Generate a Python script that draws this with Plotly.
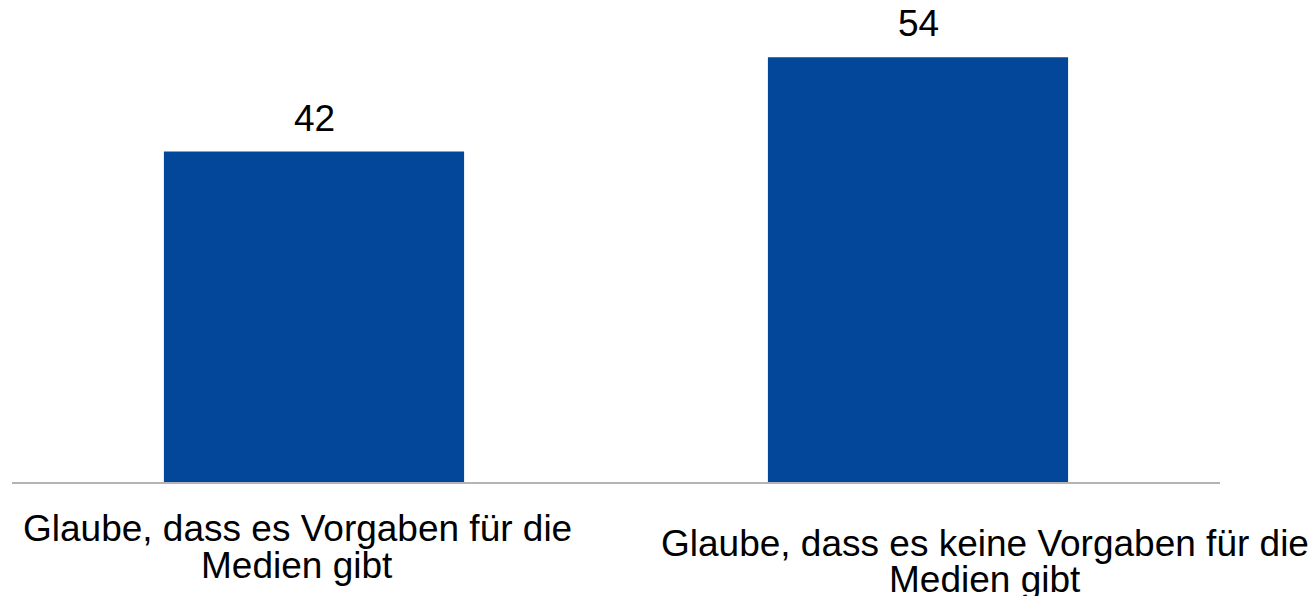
import plotly.graph_objects as go

categories = ["Glaube, dass es Vorgaben für die Medien gibt",
              "Glaube, dass es keine Vorgaben für die Medien gibt"]
label_lines = [["Glaube, dass es Vorgaben für die", "Medien gibt"],
               ["Glaube, dass es keine Vorgaben für die", "Medien gibt"]]
values = [42, 54]

BAR = "#02479A"
FONT = "Liberation Sans, Arial, sans-serif"

fig = go.Figure(go.Bar(x=categories, y=values, marker_color=BAR, marker_line_width=0,
                       width=0.497, hoverinfo="skip"))

annotations = []
for c, v in zip(categories, values):
    annotations.append(dict(x=c, y=v, xref="x", yref="y", text=str(v), showarrow=False,
                            yanchor="bottom", yshift=11, font=dict(size=37, color="#000000", family=FONT)))

xshifts = [-17, 67]
yoffs = [0, 15]
gaps = [37, 36]
for c, lines, xs, yo, g in zip(categories, label_lines, xshifts, yoffs, gaps):
    for i, line in enumerate(lines):
        annotations.append(dict(x=c, y=0, xref="x", yref="y", text=line, showarrow=False,
                                yanchor="middle", xshift=xs, yshift=-(46 + yo + g * i),
                                font=dict(size=37, color="#000000", family=FONT)))

fig.update_layout(
    width=1316, height=596,
    margin=dict(l=12, r=96, t=10, b=114, autoexpand=False),
    paper_bgcolor="white", plot_bgcolor="white",
    showlegend=False,
    xaxis=dict(showticklabels=False, showgrid=False, showline=True, linecolor="#B4B4B4",
               linewidth=2, ticks="", zeroline=False, range=[-0.5, 1.5], autorange=False),
    yaxis=dict(range=[0, 60], autorange=False, visible=False, showgrid=False, zeroline=False),
    annotations=annotations,
    font=dict(family=FONT),
)

fig.write_html("out.html", config={"displayModeBar": False},
               post_script="document.body.style.margin='0';document.body.style.overflow='hidden';")
